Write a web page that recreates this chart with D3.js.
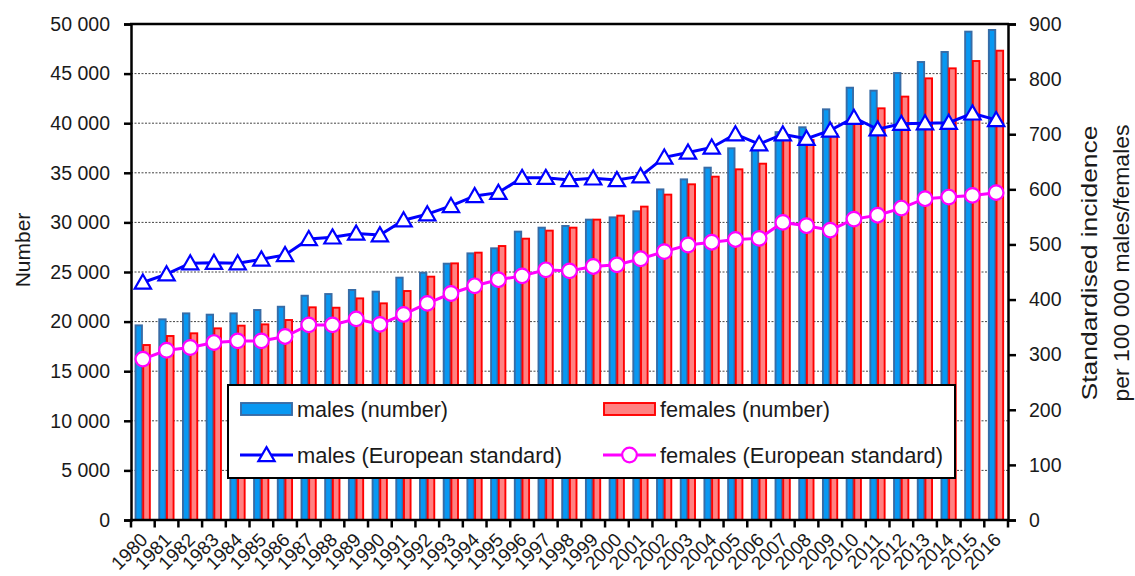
<!DOCTYPE html>
<html><head><meta charset="utf-8">
<script src="https://cdn.jsdelivr.net/npm/d3@7"></script>
<style>
body{margin:0;background:#fff;}
svg text{font-family:"Liberation Sans",Arial,sans-serif;fill:#1a1a1a;}
</style></head>
<body><svg id="c" width="1135" height="576"></svg>
<script>
const years = d3.range(1980, 2017).map(String);
const malesNumber = [19620,20230,20830,20700,20830,21170,21500,22610,22780,23190,23020,
  24430,24930,25840,26880,27390,29070,29470,29640,30280,30510,31120,33330,34340,35520,37470,
  37500,39100,39590,41400,43580,43280,45060,46170,47180,49230,49400];
const femalesNumber = [17640,18550,18820,19320,19590,19720,20160,21440,21400,22340,21840,
  23085,24530,25870,26950,27620,28360,29170,29470,30280,30680,31590,32800,33840,34610,35350,
  35920,38600,38300,38900,40000,41500,42680,44520,45530,46270,47310];
const malesStd = [431,446,466,467,466,473,481,510,513,520,517,544,555,570,588,594,621,621,617,620,
  617,624,658,667,676,700,682,700,692,707,730,709,719,720,721,738,726];
const femalesStd = [292,308,313,322,325,325,333,354,354,365,355,373,393,411,425,436,443,454,452,
  460,463,474,487,499,504,509,511,540,534,526,546,553,566,583,586,589,594];
const leftTicks = d3.range(0, 50001, 5000);
const rightTicks = d3.range(0, 901, 100);
const legendItems = ["males (number)","females (number)","males (European standard)","females (European standard)"];

const svg = d3.select("#c");
const L = 131, R = 1008, T = 24, B = 520;
const x = d3.scaleBand().domain(years).range([L, R]).padding(0);
const yL = d3.scaleLinear().domain([0, 50000]).range([B, T]);
const yR = d3.scaleLinear().domain([0, 900]).range([B, T]);
const fmt = d3.formatLocale({decimal:".", thousands:"\u00a0", grouping:[3], currency:["",""]}).format(",");

// gridlines
svg.append("g").selectAll("line").data(leftTicks.filter(d => d > 0 && d < 50000)).join("line")
  .attr("x1", L).attr("x2", R).attr("y1", d => yL(d)).attr("y2", d => yL(d))
  .attr("stroke", "#444").attr("stroke-width", 1).attr("stroke-dasharray", "2,1.5");

// bars
const cx = d => x(d) + x.bandwidth() / 2;
svg.append("g").selectAll("rect").data(years).join("rect")
  .attr("x", d => cx(d) - 7.3).attr("width", 6.4)
  .attr("y", (d, i) => yL(malesNumber[i])).attr("height", (d, i) => B - yL(malesNumber[i]))
  .attr("fill", "#0898f2").attr("stroke", "#386ca6").attr("stroke-width", 1.9);
svg.append("g").selectAll("rect").data(years).join("rect")
  .attr("x", d => cx(d) + 0.4).attr("width", 6.6)
  .attr("y", (d, i) => yL(femalesNumber[i])).attr("height", (d, i) => B - yL(femalesNumber[i]))
  .attr("fill", "#ff8282").attr("stroke", "#ff0000").attr("stroke-width", 1.9);

// lines
const lineM = d3.line().x((d, i) => cx(years[i])).y(d => yR(d));
svg.append("path").datum(malesStd).attr("d", lineM).attr("fill", "none").attr("stroke", "#0000ff").attr("stroke-width", 3);
svg.append("path").datum(femalesStd).attr("d", lineM).attr("fill", "none").attr("stroke", "#ff00ff").attr("stroke-width", 3);
const tri = d3.symbol().type(d3.symbolTriangle).size(115);
svg.append("g").selectAll("path").data(malesStd).join("path")
  .attr("d", tri).attr("transform", (d, i) => `translate(${cx(years[i])},${yR(d) + 1.5})`)
  .attr("fill", "#fff").attr("stroke", "#0000ff").attr("stroke-width", 2.2);
svg.append("g").selectAll("circle").data(femalesStd).join("circle")
  .attr("cx", (d, i) => cx(years[i])).attr("cy", d => yR(d)).attr("r", 7.3)
  .attr("fill", "#fff").attr("stroke", "#ff00ff").attr("stroke-width", 2.2);

// axes
const axL = svg.append("g").attr("transform", `translate(${L},0)`)
  .call(d3.axisLeft(yL).tickValues(leftTicks).tickFormat(fmt).tickSize(7).tickPadding(14));
const axR = svg.append("g").attr("transform", `translate(${R},0)`)
  .call(d3.axisRight(yR).tickValues(rightTicks).tickSize(8).tickPadding(13));
[axL, axR].forEach(a => {
  a.select(".domain").attr("stroke", "#000").attr("stroke-width", 2.5);
  a.selectAll(".tick line").attr("stroke", "#000").attr("stroke-width", 2.5);
  a.selectAll(".tick text").style("font-size", "19.5px").attr("fill", "#1a1a1a");
});
// x boundary ticks
svg.append("g").selectAll("line").data(years.concat(["end"])).join("line")
  .attr("x1", (d, i) => L + i * x.bandwidth()).attr("x2", (d, i) => L + i * x.bandwidth())
  .attr("y1", B).attr("y2", B + 7.5).attr("stroke", "#000").attr("stroke-width", 2.5);
svg.append("line").attr("x1", L - 1).attr("x2", R + 1).attr("y1", B).attr("y2", B).attr("stroke", "#000").attr("stroke-width", 2.5);
svg.append("line").attr("x1", L - 1).attr("x2", R + 1).attr("y1", T).attr("y2", T).attr("stroke", "#000").attr("stroke-width", 2.5);
// x labels
svg.append("g").selectAll("text").data(years).join("text")
  .attr("transform", d => `translate(${cx(d) + 6},${B + 21}) rotate(-45)`)
  .attr("text-anchor", "end").style("font-size", "19px").text(d => d);

// axis titles
svg.append("text").attr("transform", "translate(30,250) rotate(-90)").attr("text-anchor", "middle")
  .style("font-size", "21px").text("Number");
svg.append("text").attr("transform", "translate(1097,263) rotate(-90)").attr("text-anchor", "middle")
  .attr("textLength", 275).attr("lengthAdjust", "spacingAndGlyphs")
  .style("font-size", "22px").text("Standardised incidence");
svg.append("text").attr("transform", "translate(1129,263) rotate(-90)").attr("text-anchor", "middle")
  .attr("textLength", 277).attr("lengthAdjust", "spacingAndGlyphs")
  .style("font-size", "22px").text("per 100 000 males/females");

// legend
const lg = svg.append("g");
lg.append("rect").attr("x", 228).attr("y", 385).attr("width", 727).attr("height", 93)
  .attr("fill", "#fff").attr("stroke", "#000").attr("stroke-width", 2);
const cols = [240, 603], rows = [409, 455];
lg.append("rect").attr("x", cols[0] + 1).attr("y", rows[0] - 6).attr("width", 51).attr("height", 12)
  .attr("fill", "#0898f2").attr("stroke", "#386ca6").attr("stroke-width", 1.9);
lg.append("rect").attr("x", cols[1] + 1).attr("y", rows[0] - 6).attr("width", 51).attr("height", 12)
  .attr("fill", "#ff8282").attr("stroke", "#ff0000").attr("stroke-width", 1.9);
lg.append("line").attr("x1", cols[0]).attr("x2", cols[0] + 53).attr("y1", rows[1]).attr("y2", rows[1])
  .attr("stroke", "#0000ff").attr("stroke-width", 3);
lg.append("path").attr("d", tri).attr("transform", `translate(${cols[0] + 26.5},${rows[1] + 1.5})`)
  .attr("fill", "#fff").attr("stroke", "#0000ff").attr("stroke-width", 2.2);
lg.append("line").attr("x1", cols[1]).attr("x2", cols[1] + 53).attr("y1", rows[1]).attr("y2", rows[1])
  .attr("stroke", "#ff00ff").attr("stroke-width", 3);
lg.append("circle").attr("cx", cols[1] + 26.5).attr("cy", rows[1]).attr("r", 7.3)
  .attr("fill", "#fff").attr("stroke", "#ff00ff").attr("stroke-width", 2.2);
const pos = [[0,0],[1,0],[0,1],[1,1]];
const lens = [151, 170, 265, 283];
lg.selectAll("text.l").data(legendItems).join("text").attr("class", "l")
  .attr("x", (d, i) => cols[pos[i][0]] + 57).attr("y", (d, i) => rows[pos[i][1]] + 7.5)
  .attr("textLength", (d, i) => lens[i]).attr("lengthAdjust", "spacingAndGlyphs")
  .style("font-size", "21.5px").text(d => d);
</script></body></html>
